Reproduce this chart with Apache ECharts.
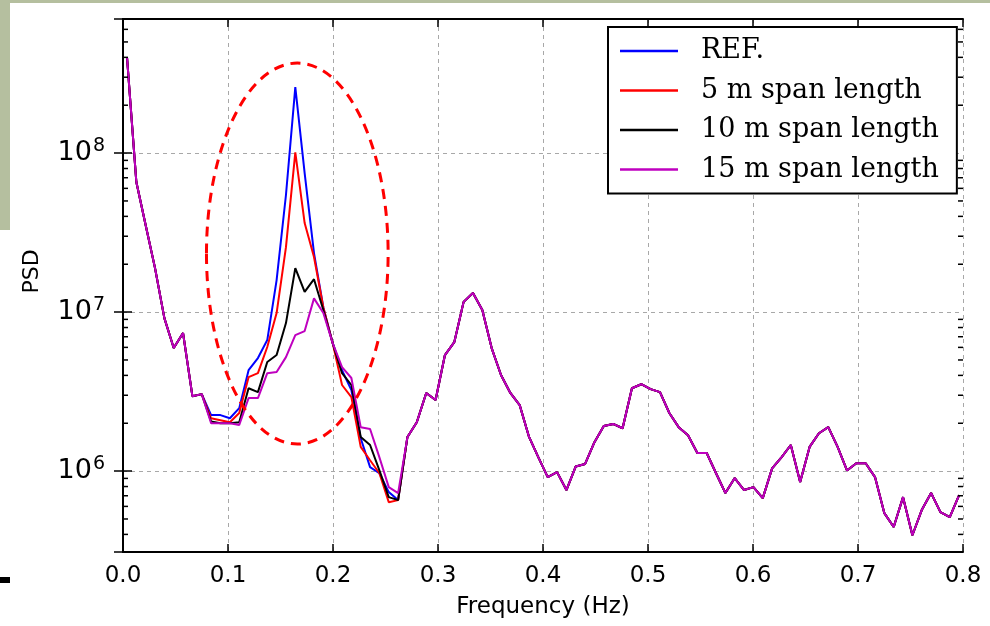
<!DOCTYPE html>
<html>
<head>
    <meta charset="utf-8">
    <title>PSD chart</title>
    <script src="https://cdn.jsdelivr.net/npm/echarts@6/dist/echarts.min.js"></script>
    <style>
        html, body { margin: 0; padding: 0; background: #fff; }
        #main { width: 990px; height: 626px; }
    </style>
</head>
<body>
<div id="main"></div>
<script>
    // frequency grid (Hz), evenly sampled
    var freqStart = 0.0038;
    var freqStep = 0.0089048;
    var freq = [];
    for (var k = 0; k < 90; k++) freq.push(+(freqStart + freqStep * k).toFixed(4));

    // PSD values, shared start (k 0..8)
    var head = [4.02e8, 6.58e7, 3.52e7, 1.89e7, 9.16e6, 5.94e6, 7.38e6, 2.96e6, 3.05e6];

    // the part inside the dashed ellipse (k 9..29), one per series
    var refMid = [2.25e6, 2.25e6, 2.15e6, 2.49e6, 4.31e6, 5.14e6, 6.67e6, 1.59e7, 5.45e7, 2.6e8, 7.48e7,
        2.35e7, 1.07e7, 6.38e6, 4.31e6, 3.23e6, 1.61e6, 1.06e6, 9.7e5, 7.38e5, 6.57e5];
    var span5Mid = [2.15e6, 2.09e6, 2.03e6, 2.32e6, 3.9e6, 4.13e6, 6.03e6, 9.86e6, 2.56e7, 1.01e8, 3.63e7,
        2.22e7, 1.07e7, 6.38e6, 3.48e6, 2.92e6, 1.42e6, 1.17e6, 9.7e5, 6.38e5, 6.57e5];
    var span10Mid = [2.05e6, 2.0e6, 2.0e6, 2.03e6, 3.32e6, 3.14e6, 4.86e6, 5.37e6, 8.53e6, 1.89e7, 1.34e7,
        1.61e7, 1.03e7, 6.38e6, 4.13e6, 3.48e6, 1.64e6, 1.46e6, 1.01e6, 6.86e5, 6.57e5];
    var span15Mid = [2.0e6, 2.0e6, 2.0e6, 1.95e6, 2.88e6, 2.88e6, 4.13e6, 4.2e6, 5.21e6, 7.16e6, 7.6e6,
        1.22e7, 9.86e6, 6.38e6, 4.51e6, 3.85e6, 1.89e6, 1.84e6, 1.22e6, 7.93e5, 7.28e5];

    // shared rest (k 30..89)
    var tail = [1.64e6, 2.03e6, 3.1e6, 2.8e6, 5.37e6, 6.47e6, 1.16e7, 1.32e7, 1.03e7, 5.94e6,
        4.02e6, 3.1e6, 2.6e6, 1.64e6, 1.22e6, 9.17e5, 9.86e5, 7.6e5, 1.07e6, 1.11e6,
        1.52e6, 1.92e6, 1.98e6, 1.86e6, 3.32e6, 3.52e6, 3.28e6, 3.14e6, 2.32e6, 1.89e6,
        1.68e6, 1.30e6, 1.30e6, 9.7e5, 7.28e5, 9.04e5, 7.6e5, 7.93e5, 6.76e5, 1.04e6,
        1.22e6, 1.46e6, 8.53e5, 1.42e6, 1.73e6, 1.89e6, 1.42e6, 1.01e6, 1.12e6, 1.12e6,
        9.17e5, 5.44e5, 4.45e5, 6.86e5, 3.95e5, 5.69e5, 7.28e5, 5.52e5, 5.14e5, 7.06e5];

    var names = ['REF.', '5 m span length', '10 m span length', '15 m span length'];
    var colors = ['#0000ff', '#ff0000', '#000000', '#bf00bf'];
    var mids = [refMid, span5Mid, span10Mid, span15Mid];

    var yMin = 3.1e5, yMax = 6.97e8;
    var minorMult = [2, 3, 4, 5, 6, 7, 8, 9];

    // dashed ellipse annotation in data units
    var ellipse = { f: 0.166, fHalf: 0.0865, top: 3.68e8, bottom: 1.48e6 };

    function pairs(vals) {
        return vals.map(function (v, i) { return [freq[i], v]; });
    }

    var chart = echarts.init(document.getElementById('main'));

    var series = names.map(function (n, i) {
        return {
            name: n,
            type: 'line',
            showSymbol: false,
            symbol: 'none',
            data: pairs(head.concat(mids[i], tail)),
            lineStyle: { color: colors[i], width: 2 },
            itemStyle: { color: colors[i] },
            z: 2 + i
        };
    });

    var font = 'DejaVu Sans';
    chart.setOption({
        animation: false,
        backgroundColor: '#fff',
        grid: { left: 123, right: 27, top: 19, bottom: 74 },
        legend: {
            data: names,
            orient: 'vertical',
            left: 608, top: 27,
            padding: [9, 18, 9, 12],
            itemWidth: 58, itemHeight: 2.5,
            itemGap: 9.5,
            icon: 'rect',
            borderColor: '#000', borderWidth: 2, borderRadius: 0,
            backgroundColor: '#fff',
            textStyle: { fontFamily: 'DejaVu Serif', fontSize: 27, lineHeight: 30, color: '#000', padding: [0, 0, 0, 18] }
        },
        xAxis: [{
            type: 'value', min: 0, max: 0.8, interval: 0.1,
            name: 'Frequency (Hz)', nameLocation: 'middle', nameGap: 44,
            nameTextStyle: { fontFamily: font, fontSize: 23, color: '#000' },
            axisLine: { lineStyle: { color: '#000', width: 2 } },
            axisTick: { inside: true, length: 8, lineStyle: { color: '#000', width: 1.5 } },
            axisLabel: { fontFamily: font, fontSize: 23, color: '#000', margin: 13,
                formatter: function (v) { return v.toFixed(1); } },
            splitLine: { show: true, lineStyle: { color: '#a8a8a8', type: [4, 4], width: 1 } }
        }, {
            type: 'value', min: 0, max: 0.8, interval: 0.1, position: 'top',
            axisLine: { lineStyle: { color: '#000', width: 2 } },
            axisTick: { inside: true, length: 8, lineStyle: { color: '#000', width: 1.5 } },
            axisLabel: { show: false }, splitLine: { show: false }
        }],
        yAxis: [{
            type: 'log', min: yMin, max: yMax,
            name: 'PSD', nameLocation: 'middle', nameGap: 80,
            nameTextStyle: { fontFamily: font, fontSize: 22, color: '#000', padding: [0, 0, 0, 28] },
            axisLine: { lineStyle: { color: '#000', width: 2 } },
            axisTick: { inside: true, length: 9, lineStyle: { color: '#000', width: 1.5 } },
            axisLabel: {
                fontFamily: font, fontSize: 27, color: '#000', margin: 18,
                showMinLabel: false, showMaxLabel: false,
                formatter: function (v) { return '10{sup|' + Math.round(Math.log10(v)) + '}'; },
                rich: { sup: { fontFamily: font, fontSize: 19, color: '#000', verticalAlign: 'top', padding: [0, 0, 15, 1] } }
            },
            splitLine: { show: true, lineStyle: { color: '#a8a8a8', type: [4, 4], width: 1 } }
        }, {
            type: 'log', min: yMin, max: yMax, position: 'right',
            axisLine: { lineStyle: { color: '#000', width: 2 } },
            axisTick: { inside: true, length: 9, lineStyle: { color: '#000', width: 1.5 } },
            axisLabel: { show: false }, splitLine: { show: false }
        }],
        series: series
    });

    // extras: minor log ticks, ellipse, slide frame
    var xl = chart.convertToPixel({ xAxisIndex: 0 }, 0);
    var xr = chart.convertToPixel({ xAxisIndex: 0 }, 0.8);
    var graphic = [];
    for (var d = 5; d <= 8; d++) {
        minorMult.forEach(function (m) {
            var v = m * Math.pow(10, d);
            if (v <= yMin || v >= yMax) return;
            var y = chart.convertToPixel({ yAxisIndex: 0 }, v);
            graphic.push({ type: 'line', shape: { x1: xl, y1: y, x2: xl + 5, y2: y }, style: { stroke: '#000', lineWidth: 1.5 }, z: 50 });
            graphic.push({ type: 'line', shape: { x1: xr - 5, y1: y, x2: xr, y2: y }, style: { stroke: '#000', lineWidth: 1.5 }, z: 50 });
        });
    }
    var ex0 = chart.convertToPixel({ xAxisIndex: 0 }, ellipse.f - ellipse.fHalf);
    var ex1 = chart.convertToPixel({ xAxisIndex: 0 }, ellipse.f + ellipse.fHalf);
    var ey0 = chart.convertToPixel({ yAxisIndex: 0 }, ellipse.top);
    var ey1 = chart.convertToPixel({ yAxisIndex: 0 }, ellipse.bottom);
    graphic.push({
        type: 'ellipse', z: 60,
        shape: { cx: (ex0 + ex1) / 2, cy: (ey0 + ey1) / 2, rx: (ex1 - ex0) / 2, ry: (ey1 - ey0) / 2 },
        style: { fill: 'none', stroke: '#ff0000', lineWidth: 3, lineDash: [10, 7] }
    });
    graphic.push({ type: 'rect', shape: { x: 0, y: 0, width: 990, height: 3 }, style: { fill: '#b5bf9f' }, z: 70 });
    graphic.push({ type: 'rect', shape: { x: 0, y: 0, width: 10, height: 230 }, style: { fill: '#b5bf9f' }, z: 70 });
    graphic.push({ type: 'rect', shape: { x: 0, y: 577, width: 10, height: 6 }, style: { fill: '#000' }, z: 70 });
    chart.setOption({ graphic: graphic });
</script>
</body>
</html>
